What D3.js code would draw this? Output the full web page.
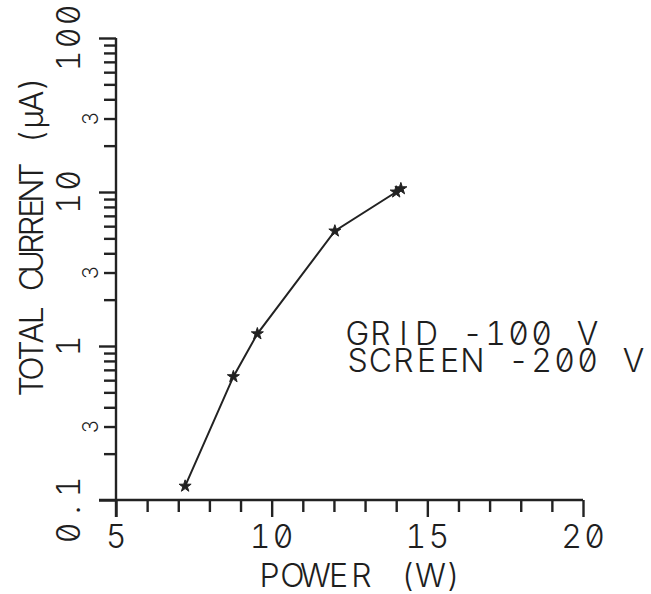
<!DOCTYPE html>
<html>
<head>
<meta charset="utf-8">
<script src="https://cdn.jsdelivr.net/npm/d3@7"></script>
<style>
  html, body { margin: 0; padding: 0; background: #fff; }
  svg { display: block; }
  text {
    font-family: "Inter", monospace;
    font-weight: 300;
    font-variant-numeric: slashed-zero tabular-nums;
    font-feature-settings: "zero" 1, "tnum" 1;
    fill: #1e1e1e;
  }
</style>
</head>
<body>
<svg id="chart" width="651" height="594"></svg>
<script>
// Measured total current versus RF power
const power = [7.22, 8.77, 9.54, 12.03, 14.0, 14.15];
const current = [0.123, 0.632, 1.2, 5.58, 10.0, 10.5];

const xTickValues = [5, 10, 15, 20];
const yMajorLabels = ["0.1", "1", "10", "100"];
const yMajorValues = [0.1, 1, 10, 100];
const yThreeValues = [0.3, 3, 30];
const annotationLines = ["GRID -100 V", "SCREEN -200 V"];
const xTitle = "POWER (W)";
const yTitle = "TOTAL CURRENT (\u00b5A)";

const svg = d3.select("#chart");
const ink = "#222";
const fontSize = 32;
const pitch = 23;

const x = d3.scaleLinear().domain([5, 20]).range([116, 583]);
const y = d3.scaleLog().domain([0.1, 100]).range([500, 38]);

// Fixed-pitch lettering: each character is centred in its own cell.
function cells(str, start, step) {
  return Array.from(str).map((c, i) => (start + step * (i + 0.5)).toFixed(1)).join(" ");
}
function lettering(sel, str, start, step) {
  return sel.attr("text-anchor", "middle")
    .attr("x", cells(str, start, step))
    .text(str);
}

const majorLen = 17, minorLen = 12;

// x axis: ticks at every unit, longer at multiples of 5
const xAxis = d3.axisBottom(x)
  .tickValues(d3.range(5, 21))
  .tickSize(minorLen)
  .tickSizeOuter(0)
  .tickFormat("");
const gx = svg.append("g").attr("transform", `translate(0,${y(0.1)})`).call(xAxis);
gx.selectAll(".tick line").attr("y2", d => d % 5 === 0 ? majorLen : minorLen);
gx.selectAll("line, path").attr("stroke", ink).attr("stroke-width", 2.4);
gx.select(".domain").attr("d", `M${x(5) - majorLen},0H${x(20)}`);

// y axis: log ticks 1..9 per decade, longer at decades
const yTicks = [];
[0.1, 1, 10].forEach(dec => { for (let k = 1; k < 10; k++) yTicks.push(dec * k); });
yTicks.push(100);
const yAxis = d3.axisLeft(y)
  .tickValues(yTicks)
  .tickSize(minorLen)
  .tickSizeOuter(0)
  .tickFormat("");
const gy = svg.append("g").attr("transform", `translate(${x(5)},0)`).call(yAxis);
gy.selectAll(".tick line")
  .attr("x2", d => yMajorValues.some(v => Math.abs(v - d) < 1e-9) ? -majorLen : -minorLen);
gy.selectAll("line, path").attr("stroke", ink).attr("stroke-width", 2.4);
gy.select(".domain").attr("d", `M0,${y(0.1) + majorLen}V${y(100)}`);

// x tick labels
svg.append("g").selectAll("text")
  .data(xTickValues)
  .join("text")
  .attr("y", 548)
  .attr("font-size", fontSize)
  .each(function(d) {
    const s = String(d);
    lettering(d3.select(this), s, x(d) - pitch * s.length / 2, pitch);
  });

// y tick labels, rotated to read upward
svg.append("g").selectAll("text")
  .data(yMajorValues)
  .join("text")
  .attr("transform", d => `translate(80,${d === 0.1 ? y(d) + 10 : y(d)}) rotate(-90)`)
  .attr("font-size", fontSize)
  .each(function(d, i) {
    const s = yMajorLabels[i];
    lettering(d3.select(this), s, -pitch * s.length / 2, pitch);
  });

svg.append("g").selectAll("text")
  .data(yThreeValues)
  .join("text")
  .attr("transform", d => `translate(98,${y(d)}) rotate(-90)`)
  .attr("text-anchor", "middle")
  .attr("font-size", 21)
  .text("3");

// axis titles
lettering(svg.append("text").attr("y", 587).attr("font-size", fontSize), xTitle, 258, pitch);

const yPitch = 17.8;
lettering(
  svg.append("text").attr("transform", "translate(43,235) rotate(-90)").attr("font-size", fontSize),
  yTitle, -yPitch * 18 / 2, yPitch);

// annotation
svg.append("g").selectAll("text")
  .data(annotationLines)
  .join("text")
  .attr("y", (d, i) => 345 + i * 27)
  .attr("font-size", fontSize)
  .each(function(d) { lettering(d3.select(this), d, 346, pitch); });

// data line and markers
const pts = power.map((p, i) => [p, current[i]]);
svg.append("path")
  .datum(pts)
  .attr("fill", "none")
  .attr("stroke", ink)
  .attr("stroke-width", 2)
  .attr("d", d3.line().x(d => x(d[0])).y(d => y(d[1])));

svg.append("g").selectAll("path")
  .data(pts)
  .join("path")
  .attr("transform", d => `translate(${x(d[0])},${y(d[1])})`)
  .attr("d", d3.symbol().type(d3.symbolStar).size(45))
  .attr("fill", ink)
  .attr("stroke", ink)
  .attr("stroke-width", 1);
</script>
</body>
</html>
